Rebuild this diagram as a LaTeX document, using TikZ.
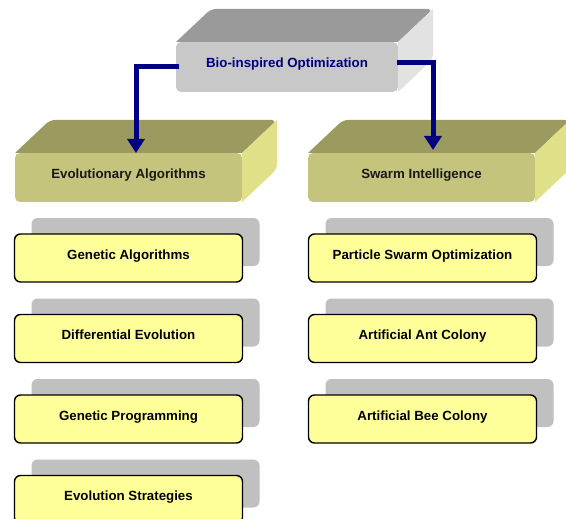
\documentclass[tikz,border=0pt]{standalone}
\usepackage{fontspec}
\setmainfont{Liberation Sans}
\usetikzlibrary{arrows.meta,shadows}

\definecolor{navyblue}{HTML}{000080}
\definecolor{graytop}{HTML}{9A9A9A}
\definecolor{grayfront}{HTML}{C8C8C8}
\definecolor{grayside}{HTML}{E2E2E2}
\definecolor{olivetop}{HTML}{9B9B5F}
\definecolor{olivefront}{HTML}{C4C47C}
\definecolor{oliveside}{HTML}{E0E088}
\definecolor{leafyellow}{HTML}{FFFF99}
\definecolor{leafshadow}{HTML}{C0C0C0}

\newcommand\drawboxfaces[3]{%
  \fill[#2] (#1.north west) [rounded corners=5pt] -- ([shift={(35pt,33pt)}]#1.north west) -- ([shift={(35pt,33pt)}]#1.north east) [sharp corners] -- (#1.north east) -- cycle;
  \fill[#3] (#1.north east) -- ([shift={(35pt,33pt)}]#1.north east) [rounded corners=5pt] -- ([shift={(35pt,33pt)}]#1.south east) [sharp corners] -- (#1.south east) -- cycle;
}

\tikzset{
  labelfont/.style={font=\fontsize{13.3pt}{16pt}\selectfont\bfseries},
  frontface/.style={labelfont, rectangle, rounded corners=5pt, outer sep=0pt,
    text height=9.5pt, text depth=8pt, minimum height=49pt, draw=none},
  leaf/.style={labelfont, rectangle, rounded corners=6pt, outer sep=0pt,
    draw=black, line width=1.4pt, fill=leafyellow, text=black,
    text height=9.5pt, text depth=7.5pt, minimum width=228pt, minimum height=48pt,
    general shadow={fill=leafshadow, draw=none, shadow xshift=17pt, shadow yshift=16pt}},
  link/.style={draw=navyblue, line width=5pt, line join=miter,
    -{Triangle[width=17pt,length=14pt]}}
}

\begin{document}
\begin{tikzpicture}[x=1pt,y=-1pt]
\fill[white] (0,0) rectangle (566,519);
\clip (0,0) rectangle (566,519);

% top box
\node[frontface, fill=grayfront, text=navyblue, minimum width=222pt, minimum height=50pt] (bio) at (287,67) {Bio-inspired Optimization};
\drawboxfaces{bio}{graytop}{grayside}

% category boxes
\node[frontface, fill=olivefront, text=black!90, minimum width=227pt] (evo) at (128.5,177.5) {Evolutionary Algorithms};
\drawboxfaces{evo}{olivetop}{oliveside}
\node[frontface, fill=olivefront, text=black!90, minimum width=227pt] (swarm) at (421.5,177.5) {Swarm Intelligence};
\drawboxfaces{swarm}{olivetop}{oliveside}

% leaves
\node[leaf] (ga) at (128.5,258) {Genetic Algorithms};
\node[leaf] (de) at (128.5,338.5) {Differential Evolution};
\node[leaf] (gp) at (128.5,419) {Genetic Programming};
\node[leaf] (es) at (128.5,499.5) {Evolution Strategies};
\node[leaf] (pso) at (422.5,258) {Particle Swarm Optimization};
\node[leaf] (aac) at (422.5,338.5) {Artificial Ant Colony};
\node[leaf] (abc) at (422.5,419) {Artificial Bee Colony};

% connectors
\draw[link] ([xshift=3pt]bio.west) -| ([xshift=7.5pt]evo.north);
\draw[link] ([shift={(-1pt,4.5pt)}]bio.east) -| ([shift={(11.5pt,3pt)}]swarm.north);
\end{tikzpicture}
\end{document}
